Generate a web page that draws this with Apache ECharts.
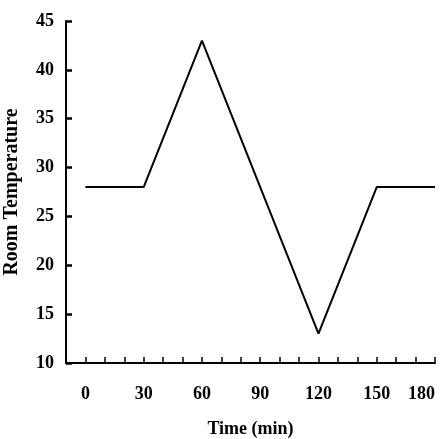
<!DOCTYPE html>
<html>
<head>
<meta charset="utf-8">
<script src="https://cdn.jsdelivr.net/npm/echarts@6/dist/echarts.min.js"></script>
<style>
  html, body { margin: 0; padding: 0; background: #fff; }
  #chart { width: 442px; height: 439px; }
</style>
</head>
<body>
<div id="chart"></div>
<script>
// room temperature vs time
var timeMin = [0, 30, 60, 120, 150, 180]
var roomTemp = [28, 28, 43, 13, 28, 28]
var xTickLabels = [0, 30, 60, 90, 120, 150, 180]
var yTickLabels = [10, 15, 20, 25, 30, 35, 40, 45]

var font = 'Liberation Serif, Times New Roman, serif'

var chart = echarts.init(document.getElementById('chart'))
var option = {
  animation: false,
  grid: { left: 66, right: 7, top: 21, bottom: 76, outerBoundsMode: 'none', containLabel: false },
  xAxis: {
    type: 'value',
    min: -10,
    max: 180,
    interval: 10,
    name: 'Time (min)',
    nameLocation: 'middle',
    nameGap: 57,
    nameTextStyle: { fontFamily: font, fontWeight: 'bold', fontSize: 18, color: '#000' },
    axisLine: { onZero: false, lineStyle: { color: '#000', width: 2 } },
    axisTick: { inside: true, length: 6, lineStyle: { color: '#000', width: 1.5 } },
    axisLabel: {
      margin: 22,
      fontFamily: font,
      fontWeight: 'bold',
      fontSize: 18,
      color: '#000',
      alignMaxLabel: 'right',
      formatter: function (v) {
        return xTickLabels.indexOf(v) >= 0 ? String(v) : ''
      },
    },
    splitLine: { show: false },
  },
  yAxis: {
    type: 'value',
    min: 10,
    max: 45,
    interval: 5,
    name: 'Room Temperature',
    nameLocation: 'middle',
    nameGap: 44,
    nameTextStyle: { fontFamily: font, fontWeight: 'bold', fontSize: 20, color: '#000' },
    axisLine: { show: true, onZero: false, lineStyle: { color: '#000', width: 2 } },
    axisTick: { show: true, inside: true, length: 6, lineStyle: { color: '#000', width: 2.5 } },
    axisLabel: {
      margin: 12,
      fontFamily: font,
      fontWeight: 'bold',
      fontSize: 18,
      color: '#000',
      formatter: function (v) {
        return yTickLabels.indexOf(v) >= 0 ? String(v) : ''
      },
    },
    splitLine: { show: false },
  },
  series: [
    {
      type: 'line',
      data: timeMin.map(function (t, i) { return [t, roomTemp[i]] }),
      symbol: 'none',
      lineStyle: { color: '#000', width: 2 },
    },
  ],
}
chart.setOption(option)
</script>
</body>
</html>
